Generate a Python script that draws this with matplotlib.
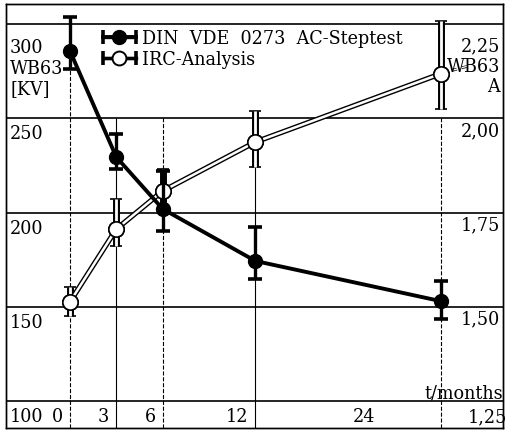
import matplotlib
matplotlib.use("Agg")
import matplotlib.pyplot as plt
from matplotlib.collections import LineCollection
from matplotlib.container import ErrorbarContainer
from matplotlib.legend_handler import HandlerErrorbar
from matplotlib.lines import Line2D

# ageing time in months
months = [0, 3, 6, 12, 24]

# DIN VDE 0273 AC step test, breakdown voltage WB63 in kV (left scale)
din_kv = [285.7, 229.4, 201.9, 174.3, 153.0]
din_low = [276.1, 223.1, 190.2, 164.7, 143.5]
din_high = [303.7, 241.6, 222.0, 192.3, 163.7]

# IRC analysis, WB63 in A (right scale)
irc_a = [1.513, 1.706, 1.807, 1.937, 2.118]
irc_low = [1.476, 1.661, 1.750, 1.870, 2.024]
irc_high = [1.552, 1.786, 1.865, 2.019, 2.258]

kv_ticks = [300, 250, 200, 150, 100]
a_ticks = [2.25, 2.00, 1.75, 1.50, 1.25]
month_labels = ["0", "3", "6", "12", "24"]

plt.rcParams["font.family"] = "DejaVu Serif"
plt.rcParams["font.stretch"] = "condensed"
FS = 14

fig = plt.figure(figsize=(5.09, 4.31), dpi=100)
ax = fig.add_axes([6 / 509, 2 / 431, 497 / 509, 424 / 431])
ax.set_xlim(-4.14, 28.03)
ax.set_ylim(85.7, 310.6)

# right scale: 1.25 A at 100 kV, 0.25 A per 50 kV
ax2 = ax.twinx()
lo, hi = ax.get_ylim()
ax2.set_ylim(1.25 + (lo - 100) / 200, 1.25 + (hi - 100) / 200)

# left axes on top so the DIN curve covers the IRC curve
ax.set_zorder(ax2.get_zorder() + 1)
ax.patch.set_visible(False)

for a in (ax, ax2):
    a.set_xticks([])
    a.set_yticks([])
    for s in a.spines.values():
        s.set_linewidth(1.0)

# grid
for v in a_ticks:
    ax2.axhline(v, color="black", lw=1.2, zorder=0)
ax2.vlines(months, ax2.get_ylim()[0], [2.25, 2.0, 2.0, 2.0, 2.0],
           colors="black", lw=0.8,
           linestyles=["--", "-", "--", "-", "--"], zorder=0)

# IRC curve: hollow double line
irc_err = [[m - l for m, l in zip(irc_a, irc_low)],
           [h - m for m, h in zip(irc_a, irc_high)]]
ax2.errorbar(months, irc_a, yerr=irc_err,
             fmt="-o", color="black", lw=3.8, ms=11, mfc="white", mec="black",
             mew=1.2, elinewidth=5, capsize=4.5, capthick=3, zorder=2)
ax2.plot(months, irc_a, "-", color="white", lw=1.8, zorder=3)
ax2.errorbar(months, irc_a, yerr=irc_err, fmt="none", ecolor="white",
             elinewidth=2, zorder=3)
ax2.plot(months, irc_a, "o", ms=11, mfc="white", mec="black", mew=1.2, zorder=4)

# DIN curve
din = ax.errorbar(months, din_kv,
                  yerr=[[m - l for m, l in zip(din_kv, din_low)],
                        [h - m for m, h in zip(din_kv, din_high)]],
                  fmt="-o", color="black", lw=2.8, ms=10, elinewidth=2.4,
                  capsize=5, capthick=2.6, zorder=5)

# legend with horizontal error bars
irc_line = Line2D([], [], color="black", lw=2.4, marker="o", ms=10,
                  mfc="white", mec="black", mew=1.4)
irc_cap = Line2D([], [], color="black", marker="_", ms=10, mew=2.6)
irc_bar = LineCollection([], colors="black", linewidths=2.4)
irc_leg = ErrorbarContainer((irc_line, (irc_cap,), (irc_bar,)),
                            has_xerr=True, has_yerr=False)
din_leg = ErrorbarContainer(din.lines, has_xerr=True, has_yerr=False)
ax.legend([din_leg, irc_leg], ["DIN  VDE  0273  AC-Steptest", "IRC-Analysis"],
          handler_map={ErrorbarContainer: HandlerErrorbar(xerr_size=0.85)},
          loc="upper left", bbox_to_anchor=(0.195, 0.94), frameon=False,
          fontsize=FS, borderpad=0, borderaxespad=0, handlelength=1.7,
          handletextpad=0.3, labelspacing=0.15)

# left scale labels (inside, under the grid lines)
ax.annotate("300\nWB63\n[KV]", xy=(0, kv_ticks[0]), xycoords=("axes fraction", "data"),
            xytext=(4, -14), textcoords="offset pixels", ha="left", va="top",
            fontsize=FS, linespacing=1.18)
for v in kv_ticks[1:]:
    ax.annotate(str(v), xy=(0, v), xycoords=("axes fraction", "data"),
                xytext=(4, -6), textcoords="offset pixels", ha="left", va="top",
                fontsize=FS)

# right scale labels
ax2.annotate("2,25\nWB63\nA", xy=(1, a_ticks[0]), xycoords=("axes fraction", "data"),
             xytext=(-3, -12), textcoords="offset pixels", ha="right", va="top",
             fontsize=FS, linespacing=1.18, multialignment="right")
for v in a_ticks[1:-1]:
    ax2.annotate(f"{v:.2f}".replace(".", ","), xy=(1, v),
                 xycoords=("axes fraction", "data"), xytext=(-3, -3),
                 textcoords="offset pixels", ha="right", va="top", fontsize=FS)
ax2.annotate(f"{a_ticks[-1]:.2f}".replace(".", ","), xy=(1, a_ticks[-1]),
             xycoords=("axes fraction", "data"), xytext=(4, -6),
             textcoords="offset pixels", ha="right", va="top", fontsize=FS)
ax2.annotate("= =", xy=(months[-1], irc_a[-1]), xytext=(9, 5),
             textcoords="offset pixels", ha="left", va="center",
             fontsize=7, rotation=15)

# month labels in the bottom strip
for m, lab in zip(months[:-1], month_labels[:-1]):
    ax.annotate(lab, xy=(m, kv_ticks[-1]), xytext=(-7, -6),
                textcoords="offset pixels", ha="right", va="top", fontsize=FS)
ax.annotate(month_labels[-1], xy=(19.06, kv_ticks[-1]), xytext=(0, -6),
            textcoords="offset pixels", ha="center", va="top", fontsize=FS)
ax.annotate("t/months", xy=(1, kv_ticks[-1]), xycoords=("axes fraction", "data"),
            xytext=(0, 4), textcoords="offset pixels", ha="right",
            va="baseline", fontsize=FS)

fig.savefig("out.png", dpi=100)
